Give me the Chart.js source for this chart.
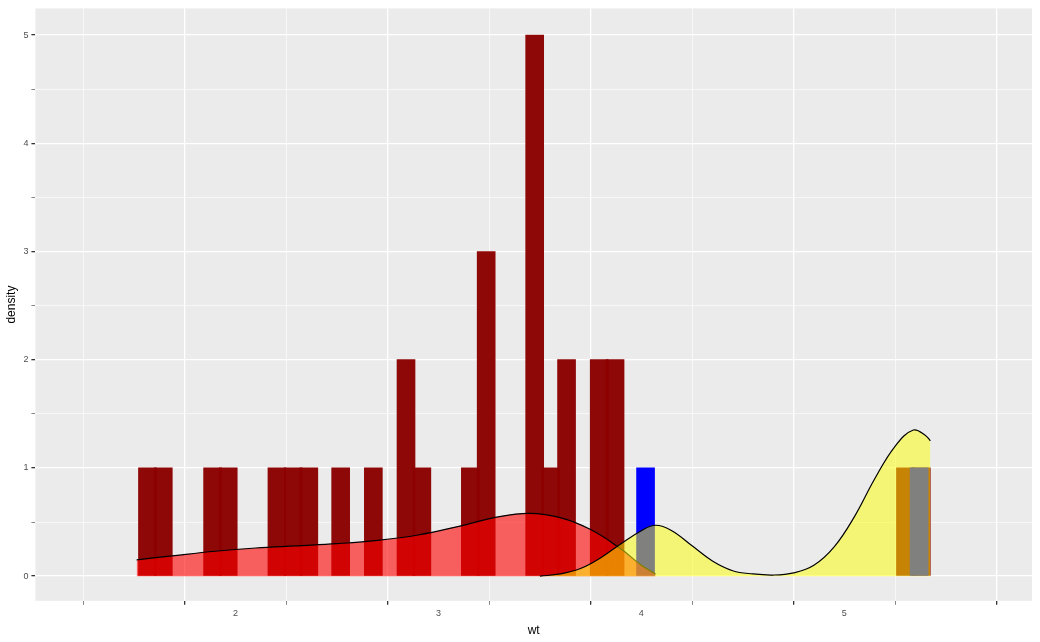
<!DOCTYPE html>
<html><head><meta charset="utf-8">
<script src="https://cdn.jsdelivr.net/npm/chart.js@4"></script>
<style>html,body{margin:0;background:#fff}#w{width:1040px;height:642px}</style>
</head><body><div id="w"><canvas id="c"></canvas></div>
<script>
const redBinX = [1.522,1.60,1.843,1.92,2.16,2.24,2.317,2.474,2.635,2.796,2.874,3.113,3.191,3.43,3.509,3.587,3.748,3.826,5.257,5.335];
const redBinY = [1,1,1,1,1,1,1,1,1,2,1,1,3,5,1,2,2,2,1,1];
const blueBinX = [4.065,5.413];
const blueBinY = [1,1];
const redDensX = [1.513,1.7,1.9,2.1,2.3,2.5,2.7,2.9,3.1,3.3,3.45,3.6,3.75,3.9,4.0,4.07];
const redDensY = [0.15,0.19,0.23,0.26,0.28,0.30,0.33,0.38,0.46,0.55,0.58,0.54,0.43,0.25,0.1,0.02];
const yelDensX = [3.5,3.6,3.7,3.8,3.9,4.0,4.07,4.15,4.25,4.35,4.45,4.55,4.65,4.75,4.85,4.95,5.05,5.15,5.25,5.34,5.4,5.424];
const yelDensY = [0,0.02,0.07,0.17,0.3,0.42,0.47,0.42,0.28,0.14,0.05,0.02,0.01,0.03,0.1,0.27,0.55,0.9,1.2,1.35,1.3,1.25];
const xTicks = [1.5,2,2.5,3,3.5,4,4.5,5,5.5];
const yTicks = [0,0.5,1,1.5,2,2.5,3,3.5,4,4.5,5];
const pts = (xs,ys)=>xs.map((x,i)=>({x:x,y:ys[i]}));
const bg = {id:'bg',beforeDraw(ch){const a=ch.chartArea,c=ch.ctx;c.save();c.fillStyle='#EBEBEB';c.fillRect(a.left,a.top,a.right-a.left,a.bottom-a.top);c.restore();}};
const isMajor = v => Math.abs(v-Math.round(v))<1e-6;
const gw = c => (c && c.tick && !isMajor(c.tick.value)) ? 0.6 : 1.3;
new Chart(document.getElementById('c'),{
 type:'bar',
 data:{datasets:[
  {type:'bar',data:pts(redBinX,redBinY),backgroundColor:'rgba(139,0,0,0.97)',barThickness:18,order:4},
  {type:'bar',data:pts(blueBinX,blueBinY),backgroundColor:'#0000ff',barThickness:18,order:3},
  {type:'line',data:pts(redDensX,redDensY),borderColor:'#000',borderWidth:1.2,backgroundColor:'rgba(255,0,0,0.6)',fill:'origin',tension:0.4,pointRadius:0,order:2},
  {type:'line',data:pts(yelDensX,yelDensY),borderColor:'#000',borderWidth:1.2,backgroundColor:'rgba(255,255,0,0.5)',fill:'origin',tension:0.4,pointRadius:0,order:1}
 ]},
 plugins:[bg],
 options:{responsive:true,maintainAspectRatio:false,animation:false,
  layout:{padding:{top:8,right:8,left:0,bottom:0}},
  plugins:{legend:{display:false},tooltip:{enabled:false}},
  scales:{
   x:{type:'linear',min:1.287,max:5.652,
     afterBuildTicks:s=>{s.ticks=xTicks.map(v=>({value:v}));},
     grid:{color:'#fff',lineWidth:gw,drawTicks:true,tickColor:'#333',tickLength:4},
     border:{display:false},
     ticks:{color:'#4d4d4d',font:{size:9},maxRotation:0,autoSkip:false,callback:v=>isMajor(v)?String(v):''},
     title:{display:true,text:'wt',color:'#000',font:{size:12},padding:{top:2}}},
   y:{min:-0.228,max:5.246,
     afterBuildTicks:s=>{s.ticks=yTicks.map(v=>({value:v}));},
     grid:{color:'#fff',lineWidth:gw,tickColor:'#333',tickLength:4},
     border:{display:false},
     ticks:{color:'#4d4d4d',font:{size:9},autoSkip:false,callback:v=>isMajor(v)?String(v):''},
     title:{display:true,text:'density',color:'#000',font:{size:12},padding:{bottom:2}}}
  }}
});
</script></body></html>
